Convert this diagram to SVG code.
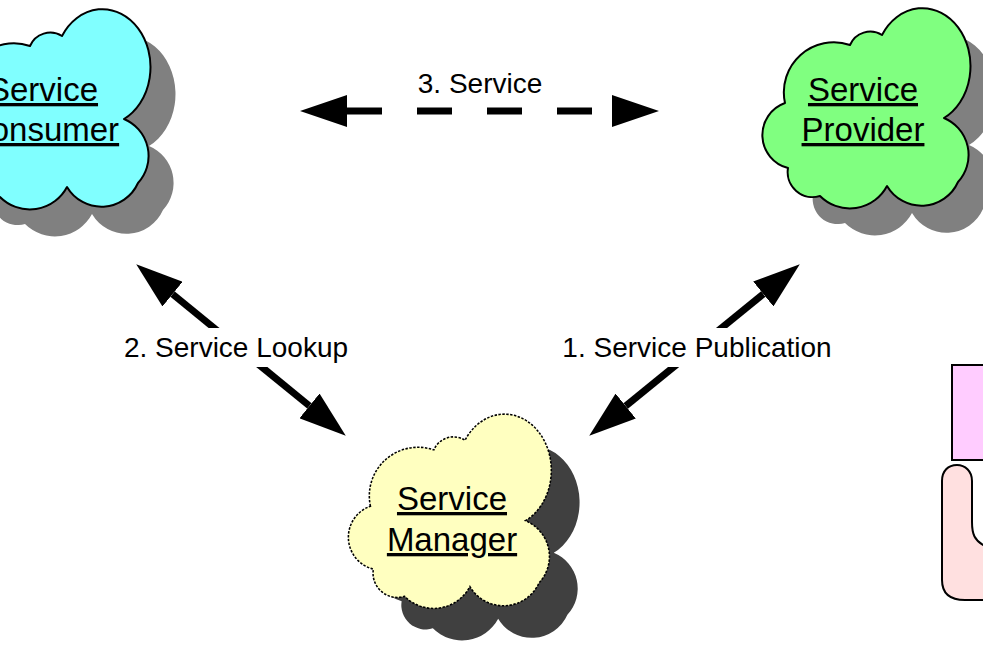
<svg xmlns="http://www.w3.org/2000/svg" width="983" height="647" viewBox="0 0 983 647">
  <style>
    .cloud { stroke: #000; stroke-width: 2; stroke-linejoin: round; }
    .shadow-lt { fill: #808080; }
    .shadow-dk { fill: #404040; }
    .name { font-family: "Liberation Sans", Arial, sans-serif; font-size: 33px; text-anchor: middle; text-decoration: underline; fill: #000; }
    .label { font-family: "Liberation Sans", Arial, sans-serif; font-size: 28px; text-anchor: middle; fill: #000; }
    .shaft { stroke: #000; stroke-width: 7; fill: none; marker-start: url(#head); marker-end: url(#head); }
    .plate { fill: #fff; }
    .box { stroke: #000; stroke-width: 2; }
  </style>
  <defs>
    <!-- cloud outline in a 0..207 x 0..200 local box -->
    <path id="cloudShape" d="M22,95 A50,50 0 0 1 87,37 A22,22 0 0 1 119,27 A48,58 0 1 1 181,110 A40,40 0 0 1 195,174 A40,40 0 0 1 124,178 A42,42 0 0 1 57,188 A25,25 0 0 1 25,160 A34,34 0 0 1 22,95 Z"/>
    <marker id="head" viewBox="0 -16 47 32" refX="0" refY="0" markerWidth="47" markerHeight="32" markerUnits="userSpaceOnUse" orient="auto-start-reverse">
      <path d="M0,-16 L47,0 L0,16 Z" fill="#000"/>
    </marker>
  </defs>

  <!-- partial shapes at the right edge -->
  <g id="edge-box">
    <rect class="box" x="952" y="365" width="45" height="95" fill="#FFCCFF"/>
  </g>
  <g id="edge-figure">
    <path class="box" fill="#FFE0E0" d="M995,545 L983,545 C975,540 972,535 972,522 L972,481 C972,471 965,465 957,465 C948,465 942,471 942,481 L942,580 C942,593 950,600 965,600 L995,600 Z"/>
  </g>

  <g id="service-consumer">
    <g transform="translate(-57,9)">
      <use href="#cloudShape" class="shadow-lt" transform="translate(25,27)"/>
      <use href="#cloudShape" class="cloud" fill="#80FFFF"/>
    </g>
    <text class="name" x="43" y="101">Service</text>
    <text class="name" x="43" y="141">Consumer</text>
  </g>

  <g id="service-provider">
    <g transform="translate(763,8)">
      <use href="#cloudShape" class="shadow-lt" transform="translate(25,27)"/>
      <use href="#cloudShape" class="cloud" fill="#80FF80"/>
    </g>
    <text class="name" x="863" y="101">Service</text>
    <text class="name" x="863" y="141">Provider</text>
  </g>

  <g id="service-manager">
    <g transform="translate(349,414) scale(0.975,0.97)">
      <use href="#cloudShape" class="shadow-dk" transform="translate(29,33)"/>
      <use href="#cloudShape" fill="#FFFFC0" stroke="#000" stroke-width="1.6" stroke-dasharray="2.5 1.5"/>
    </g>
    <text class="name" x="452" y="510">Service</text>
    <text class="name" x="452" y="551">Manager</text>
  </g>

  <g id="connectors">
    <path class="shaft" d="M347,111 H612" stroke-dasharray="35 35"/>
    <path class="shaft" d="M172.6,294.1 L309.4,405.9"/>
    <path class="shaft" d="M625.7,406 L763.3,294"/>
  </g>

  <g id="labels">
    <text class="label" x="480" y="93">3. Service</text>
    <rect class="plate" x="117" y="328" width="240" height="39"/>
    <text class="label" x="236" y="357">2. Service Lookup</text>
    <rect class="plate" x="557" y="328" width="281" height="39"/>
    <text class="label" x="697" y="357">1. Service Publication</text>
  </g>
</svg>
